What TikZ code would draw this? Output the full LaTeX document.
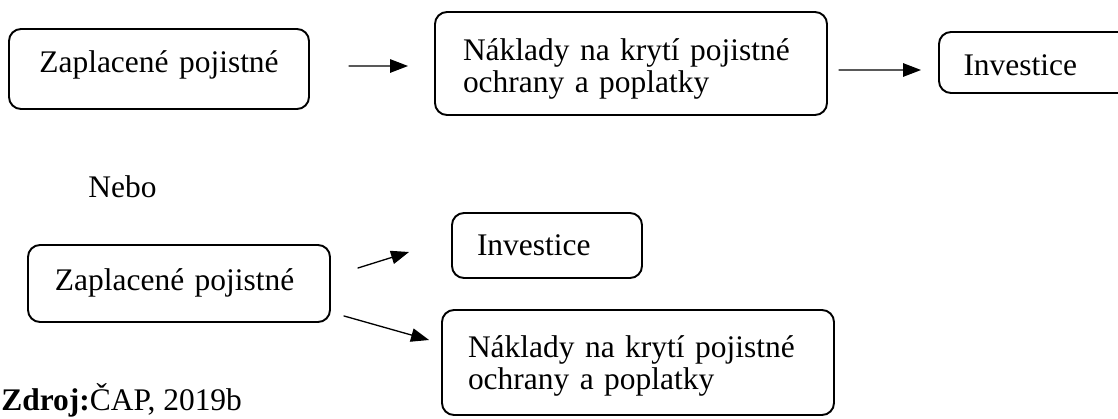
\documentclass[tikz,border=0pt]{standalone}
\usepackage{fontspec}
\setmainfont{Liberation Serif}
\usetikzlibrary{arrows.meta}

\begin{document}
\begin{tikzpicture}[line cap=round, line join=round,
  every node/.append style={font=\fontsize{17.9}{18.6}\selectfont},
  box/.style={draw, line width=1.1pt, rounded corners=0.24cm, inner sep=0pt, align=left, text height=0.5cm},
  arr/.style={line width=0.75pt, -{Triangle[length=0.36cm,width=0.27cm]}}]
  \useasboundingbox (0,0) rectangle (22.36,8.36);

  % first chain
  \node[box, minimum width=6cm, minimum height=1.6cm, text width=5.2cm, text depth=0.38cm, align=center] (platba) at (3.18,6.98) {Zaplacené pojistné};
  \node[box, minimum width=7.84cm, minimum height=2.06cm, text width=6.72cm, text depth=0.64cm] (naklady) at (12.62,7.09) {Náklady na krytí pojistné\\ochrany a poplatky};
  \node[box, minimum width=3.82cm, minimum height=1.22cm, text width=2.84cm, text depth=0cm] (investice) at (20.69,7.11) {Investice};

  \draw[arr] ([xshift=0.78cm,yshift=0.06cm]platba.east) -- ([xshift=-0.52cm,yshift=-0.05cm]naklady.west);
  \draw[arr] ([xshift=0.22cm,yshift=-0.13cm]naklady.east) -- ([xshift=-0.34cm,yshift=-0.15cm]investice.west);

  \node[anchor=base west, inner sep=0pt] (nebo) at (1.76,4.42) {Nebo};

  % second variant
  \node[box, minimum width=6.04cm, minimum height=1.54cm, text width=4.96cm, text depth=0.24cm] (platba2) at (3.58,2.69) {Zaplacené pojistné};
  \node[box, minimum width=3.8cm, minimum height=1.3cm, text width=2.8cm, text depth=0.12cm] (investice2) at (10.94,3.45) {Investice};
  \node[box, minimum width=7.84cm, minimum height=2.1cm, text width=6.8cm, text depth=0.72cm] (naklady2) at (12.76,1.11) {Náklady na krytí pojistné\\ochrany a poplatky};

  \draw[arr] ([xshift=0.54cm,yshift=0.31cm]platba2.east) -- ([xshift=-0.84cm,yshift=-0.13cm]investice2.west);
  \draw[arr] ([xshift=0.26cm,yshift=0.14cm]platba2.south east) -- ([xshift=-0.24cm,yshift=0.45cm]naklady2.west);

  \node[anchor=base west, inner sep=0pt] (zdroj) at (0.02,0.16) {\textbf{Zdroj:}ČAP, 2019b};
\end{tikzpicture}
\end{document}
